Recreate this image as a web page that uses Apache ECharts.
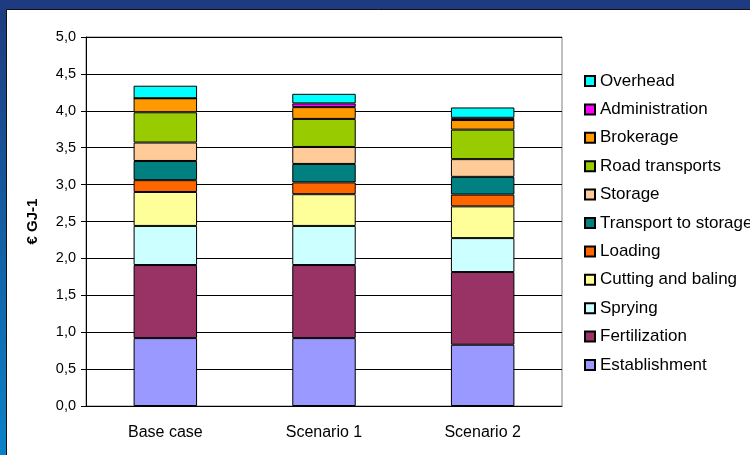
<!DOCTYPE html>
<html><head><meta charset="utf-8">
<script src="https://cdn.jsdelivr.net/npm/echarts@6/dist/echarts.min.js"></script>
<style>html,body{margin:0;padding:0;background:#1e3a80}#c{width:750px;height:455px}</style>
</head><body><div id="c"></div>
<script>
const categories = ['Base case', 'Scenario 1', 'Scenario 2'];
const seriesNames = ['Establishment','Fertilization','Sprying','Cutting and baling','Loading','Transport to storage','Storage','Road transports','Brokerage','Administration','Overhead'];
const establishment = [0.92, 0.92, 0.83];
const fertilization = [0.99, 0.99, 0.985];
const sprying = [0.53, 0.53, 0.46];
const cuttingBaling = [0.46, 0.43, 0.43];
const loading = [0.16, 0.16, 0.16];
const transportToStorage = [0.26, 0.25, 0.24];
const storage = [0.25, 0.23, 0.24];
const roadTransports = [0.41, 0.38, 0.40];
const brokerage = [0.19, 0.16, 0.13];
const administration = [0, 0.05, 0.03];
const overhead = [0.17, 0.13, 0.14];
const yTicks = ['0,0','0,5','1,0','1,5','2,0','2,5','3,0','3,5','4,0','4,5','5,0'];

const values = [establishment, fertilization, sprying, cuttingBaling, loading, transportToStorage, storage, roadTransports, brokerage, administration, overhead];
const colors = ['#9999FF','#993366','#CCFFFF','#FFFF99','#FF6600','#008080','#FFCC99','#99CC00','#FF9900','#FF00FF','#00FFFF'];
const font = 'Liberation Sans, Arial, sans-serif';

const chart = echarts.init(document.getElementById('c'));
chart.setOption({
  animation: false,
  backgroundColor: 'transparent',
  graphic: [
    { type: 'rect', z: -10, shape: { x: 0, y: 0, width: 750, height: 455 },
      style: { fill: new echarts.graphic.LinearGradient(0, 0, 0, 1, [{offset: 0, color: '#1f3a7e'}, {offset: 1, color: '#0a82c8'}]) } },
    { type: 'rect', z: -9, shape: { x: 0, y: 0, width: 750, height: 10 }, style: { fill: '#1e3a80' } },
    { type: 'rect', z: -8, shape: { x: 6.5, y: 9.5, width: 750, height: 460 }, style: { fill: '#ffffff', stroke: '#111', lineWidth: 1 } }
  ],
  legend: {
    orient: 'vertical', left: 579, top: 67,
    data: seriesNames.slice().reverse(),
    icon: 'rect', itemWidth: 10, itemHeight: 10, itemGap: 10.4,
    textStyle: { fontFamily: font, fontSize: 17, color: '#000', lineHeight: 18, padding: [0, 0, 0, 0] }
  },
  grid: { left: 86, right: 188, top: 37, bottom: 49, show: true, borderColor: '#808080', borderWidth: 1 },
  xAxis: {
    type: 'category', data: categories,
    axisLine: { lineStyle: { color: '#000' } },
    axisTick: { show: false },
    axisLabel: { fontFamily: font, fontSize: 16, color: '#000', margin: 19 }
  },
  yAxis: {
    type: 'value', min: 0, max: 5, interval: 0.5,
    name: '€ GJ-1', nameLocation: 'middle', nameGap: 46, nameRotate: 90,
    nameTextStyle: { fontFamily: font, fontSize: 15, fontWeight: 'bold', color: '#000' },
    axisLine: { show: true, lineStyle: { color: '#000' } },
    axisTick: { show: true, length: 5, lineStyle: { color: '#000' } },
    splitLine: { lineStyle: { color: '#000', width: 1 } },
    axisLabel: { fontFamily: font, fontSize: 14.5, color: '#000', margin: 10,
      formatter: function (v) { return yTicks[Math.round(v * 2)]; } }
  },
  series: seriesNames.map(function (n, i) {
    return { name: n, type: 'bar', stack: 'total', barWidth: '40%', data: values[i],
      itemStyle: { color: colors[i], borderColor: '#000', borderWidth: 1 } };
  })
});
</script></body></html>
